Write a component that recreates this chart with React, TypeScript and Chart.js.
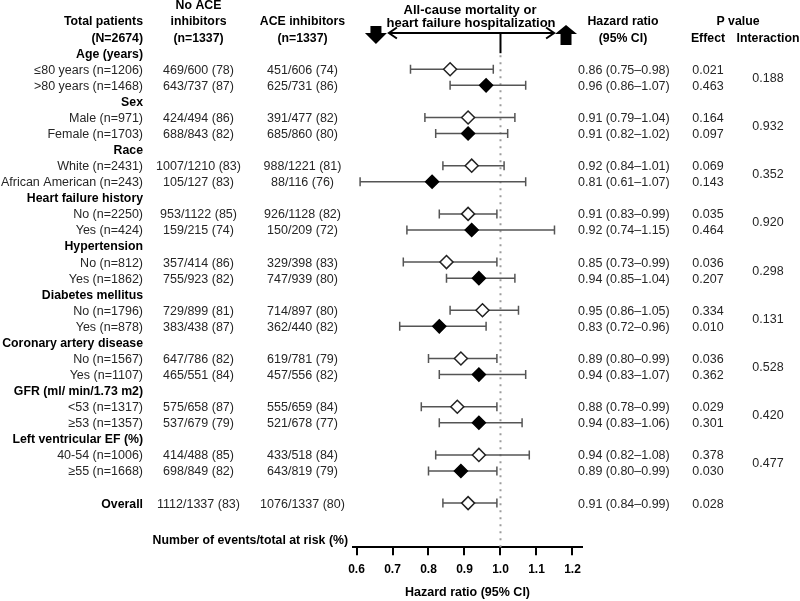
import React, { useEffect, useRef } from 'react';
import { Chart, registerables } from 'chart.js';

Chart.register(...registerables);

// ---------------- DATA ----------------
const groupTitles = [
  'Age (years)',
  'Sex',
  'Race',
  'Heart failure history',
  'Hypertension',
  'Diabetes mellitus',
  'Coronary artery disease',
  'GFR (ml/ min/1.73 m2)',
  'Left ventricular EF (%)',
];

const subgroupLabels = [
  '≤80 years (n=1206)', '>80 years (n=1468)',
  'Male (n=971)', 'Female (n=1703)',
  'White (n=2431)', 'African American (n=243)',
  'No (n=2250)', 'Yes (n=424)',
  'No (n=812)', 'Yes (n=1862)',
  'No (n=1796)', 'Yes (n=878)',
  'No (n=1567)', 'Yes (n=1107)',
  '<53 (n=1317)', '≥53 (n=1357)',
  '40-54 (n=1006)', '≥55 (n=1668)',
];

const noAceEvents = [
  '469/600 (78)', '643/737 (87)',
  '424/494 (86)', '688/843 (82)',
  '1007/1210 (83)', '105/127 (83)',
  '953/1122 (85)', '159/215 (74)',
  '357/414 (86)', '755/923 (82)',
  '729/899 (81)', '383/438 (87)',
  '647/786 (82)', '465/551 (84)',
  '575/658 (87)', '537/679 (79)',
  '414/488 (85)', '698/849 (82)',
];

const aceEvents = [
  '451/606 (74)', '625/731 (86)',
  '391/477 (82)', '685/860 (80)',
  '988/1221 (81)', '88/116 (76)',
  '926/1128 (82)', '150/209 (72)',
  '329/398 (83)', '747/939 (80)',
  '714/897 (80)', '362/440 (82)',
  '619/781 (79)', '457/556 (82)',
  '555/659 (84)', '521/678 (77)',
  '433/518 (84)', '643/819 (79)',
];

const hazardRatios = [0.86, 0.96, 0.91, 0.91, 0.92, 0.81, 0.91, 0.92, 0.85, 0.94, 0.95, 0.83, 0.89, 0.94, 0.88, 0.94, 0.94, 0.89];
const ciLower = [0.75, 0.86, 0.79, 0.82, 0.84, 0.61, 0.83, 0.74, 0.73, 0.85, 0.86, 0.72, 0.80, 0.83, 0.78, 0.83, 0.82, 0.80];
const ciUpper = [0.98, 1.07, 1.04, 1.02, 1.01, 1.07, 0.99, 1.15, 0.99, 1.04, 1.05, 0.96, 0.99, 1.07, 0.99, 1.06, 1.08, 0.99];

const pEffect = [
  '0.021', '0.463', '0.164', '0.097', '0.069', '0.143', '0.035', '0.464', '0.036',
  '0.207', '0.334', '0.010', '0.036', '0.362', '0.029', '0.301', '0.378', '0.030',
];
const pInteraction = ['0.188', '0.932', '0.352', '0.920', '0.298', '0.131', '0.528', '0.420', '0.477'];

const overallLabel = 'Overall';
const overallNoAce = '1112/1337 (83)';
const overallAce = '1076/1337 (80)';
const overallHr = 0.91;
const overallLow = 0.84;
const overallHigh = 0.99;
const overallP = '0.028';

const xTicks = [0.6, 0.7, 0.8, 0.9, 1.0, 1.1, 1.2];
const refValue = 1.0;

// ---------------- LAYOUT HELPERS ----------------
const subRow = (k: number) => Math.floor(k / 2) * 3 + 1 + (k % 2);
const groupRow = (g: number) => g * 3;
const overallRow = 28;

const fmtHr = (h: number, l: number, u: number) =>
  `${h.toFixed(2)} (${l.toFixed(2)}–${u.toFixed(2)})`;

const FONT_FAMILY = '"Liberation Sans", Arial, Helvetica, sans-serif';
const REG = `12.5px ${FONT_FAMILY}`;
const BOLD = `bold 12.3px ${FONT_FAMILY}`;
const TEXT_COLOR = '#262626';

const forestPlugin = {
  id: 'forest',
  beforeDatasetsDraw(chart: any) {
    const { ctx, chartArea } = chart;
    const xs = chart.scales.x;
    const ys = chart.scales.y;
    ctx.save();

    // reference dotted line
    const xr = xs.getPixelForValue(refValue);
    ctx.strokeStyle = '#9c9c9c';
    ctx.lineWidth = 2;
    ctx.setLineDash([2, 5]);
    ctx.beginPath();
    ctx.moveTo(xr, ys.getPixelForValue(0) + 2);
    ctx.lineTo(xr, chartArea.bottom);
    ctx.stroke();
    ctx.setLineDash([]);

    // solid upper line
    const yTop = ys.getPixelForValue(-1.26);
    ctx.strokeStyle = '#000';
    ctx.lineWidth = 2;
    ctx.beginPath();
    ctx.moveTo(xr, yTop);
    ctx.lineTo(xr, ys.getPixelForValue(0));
    ctx.stroke();

    // double-headed horizontal arrow
    const xl = xs.getPixelForValue(0.69);
    const xrr = xs.getPixelForValue(1.149);
    ctx.beginPath();
    ctx.moveTo(xl, yTop);
    ctx.lineTo(xrr, yTop);
    ctx.moveTo(xl + 8, yTop - 5.5);
    ctx.lineTo(xl, yTop);
    ctx.lineTo(xl + 8, yTop + 5.5);
    ctx.moveTo(xrr - 8, yTop - 5.5);
    ctx.lineTo(xrr, yTop);
    ctx.lineTo(xrr - 8, yTop + 5.5);
    ctx.stroke();

    // block arrows
    ctx.fillStyle = '#000';
    const xd = xs.getPixelForValue(0.654);
    ctx.beginPath();
    ctx.moveTo(xd - 5.5, yTop - 7);
    ctx.lineTo(xd + 5.5, yTop - 7);
    ctx.lineTo(xd + 5.5, yTop);
    ctx.lineTo(xd + 11, yTop);
    ctx.lineTo(xd, yTop + 11);
    ctx.lineTo(xd - 11, yTop);
    ctx.lineTo(xd - 5.5, yTop);
    ctx.closePath();
    ctx.fill();
    const xu = xs.getPixelForValue(1.182);
    ctx.beginPath();
    ctx.moveTo(xu, yTop - 8);
    ctx.lineTo(xu + 11, yTop + 1);
    ctx.lineTo(xu + 5.5, yTop + 1);
    ctx.lineTo(xu + 5.5, yTop + 12);
    ctx.lineTo(xu - 5.5, yTop + 12);
    ctx.lineTo(xu - 5.5, yTop + 1);
    ctx.lineTo(xu - 11, yTop + 1);
    ctx.closePath();
    ctx.fill();

    // error bars
    ctx.strokeStyle = '#555';
    ctx.lineWidth = 1.5;
    const drawBar = (lo: number, hi: number, row: number) => {
      const py = ys.getPixelForValue(row);
      const a = xs.getPixelForValue(lo);
      const b = xs.getPixelForValue(hi);
      ctx.beginPath();
      ctx.moveTo(a, py);
      ctx.lineTo(b, py);
      ctx.moveTo(a, py - 4.5);
      ctx.lineTo(a, py + 4.5);
      ctx.moveTo(b, py - 4.5);
      ctx.lineTo(b, py + 4.5);
      ctx.stroke();
    };
    hazardRatios.forEach((_, k) => drawBar(ciLower[k], ciUpper[k], subRow(k)));
    drawBar(overallLow, overallHigh, overallRow);
    ctx.restore();
  },
  afterDraw(chart: any) {
    const { ctx } = chart;
    const ys = chart.scales.y;
    const ty = (row: number) => ys.getPixelForValue(row) + 1;
    ctx.save();
    ctx.textBaseline = 'middle';

    const text = (s: string, x: number, y: number, align: CanvasTextAlign, bold: boolean, size?: number) => {
      ctx.font = bold ? (size ? `bold ${size}px ${FONT_FAMILY}` : BOLD) : REG;
      ctx.fillStyle = bold ? '#000' : TEXT_COLOR;
      ctx.textAlign = align;
      ctx.fillText(s, x, y);
    };

    const LABEL_X = 143;
    const NOACE_X = 198.5;
    const ACE_X = 302.5;
    const HR_X = 578;
    const EFF_X = 708;
    const INT_X = 768;

    // column headers
    text('Total patients', LABEL_X, ty(-2), 'right', true);
    text('(N=2674)', LABEL_X, ty(-1), 'right', true);
    text('No ACE', NOACE_X, ty(-3), 'center', true);
    text('inhibitors', NOACE_X, ty(-2), 'center', true);
    text('(n=1337)', NOACE_X, ty(-1), 'center', true);
    text('ACE inhibitors', ACE_X, ty(-2), 'center', true);
    text('(n=1337)', ACE_X, ty(-1), 'center', true);
    text('Hazard ratio', 623, ty(-2), 'center', true);
    text('(95% CI)', 623, ty(-1), 'center', true);
    text('P value', 738, ty(-2), 'center', true);
    text('Effect', EFF_X, ty(-1), 'center', true);
    text('Interaction', INT_X, ty(-1), 'center', true);
    text('All-cause mortality or', 470, 10, 'center', true, 13);
    text('heart failure hospitalization', 471, 23, 'center', true, 13);

    groupTitles.forEach((g, i) => {
      text(g, LABEL_X, ty(groupRow(i)), 'right', true);
      text(pInteraction[i], INT_X, ty(groupRow(i) + 1.5), 'center', false);
    });
    subgroupLabels.forEach((s, k) => {
      const r = subRow(k);
      text(s, LABEL_X, ty(r), 'right', false);
      text(noAceEvents[k], NOACE_X, ty(r), 'center', false);
      text(aceEvents[k], ACE_X, ty(r), 'center', false);
      text(fmtHr(hazardRatios[k], ciLower[k], ciUpper[k]), HR_X, ty(r), 'left', false);
      text(pEffect[k], EFF_X, ty(r), 'center', false);
    });
    text(overallLabel, LABEL_X, ty(overallRow), 'right', true);
    text(overallNoAce, NOACE_X, ty(overallRow), 'center', false);
    text(overallAce, ACE_X, ty(overallRow), 'center', false);
    text(fmtHr(overallHr, overallLow, overallHigh), HR_X, ty(overallRow), 'left', false);
    text(overallP, EFF_X, ty(overallRow), 'center', false);

    text('Number of events/total at risk (%)', 348, ty(30.25), 'right', true);
    ctx.restore();
  },
};

export default function App() {
  const ref = useRef<HTMLCanvasElement | null>(null);
  useEffect(() => {
    document.body.style.margin = '0';
    const canvas = ref.current;
    if (!canvas) return;

    const openPts: { x: number; y: number }[] = [];
    const filledPts: { x: number; y: number }[] = [];
    hazardRatios.forEach((h, k) => {
      (k % 2 === 0 ? openPts : filledPts).push({ x: h, y: subRow(k) });
    });
    openPts.push({ x: overallHr, y: overallRow });

    const chart = new Chart(canvas, {
      type: 'scatter',
      data: {
        datasets: [
          {
            data: openPts,
            pointStyle: 'rectRot',
            pointRadius: 6.5,
            pointBorderWidth: 1.5,
            backgroundColor: '#ffffff',
            borderColor: '#222222',
          },
          {
            data: filledPts,
            pointStyle: 'rectRot',
            pointRadius: 6.5,
            pointBorderWidth: 1.5,
            backgroundColor: '#000000',
            borderColor: '#000000',
          },
        ],
      },
      options: {
        animation: false,
        responsive: false,
        events: [],
        layout: { padding: { left: 353.3, right: 218.3, top: 29.1, bottom: 0 } },
        plugins: { legend: { display: false }, tooltip: { enabled: false } },
        scales: {
          x: {
            type: 'linear',
            min: 0.5911,
            max: 1.2256,
            afterBuildTicks: (scale: any) => {
              scale.ticks = xTicks.map((v) => ({ value: v }));
            },
            afterFit: (scale: any) => {
              scale.height = 53.7;
            },
            grid: { drawOnChartArea: false, drawTicks: true, tickLength: 8, color: '#000', lineWidth: 2 },
            border: { display: true, color: '#000', width: 2 },
            ticks: {
              color: '#000',
              padding: 7,
              font: { family: FONT_FAMILY, size: 12, weight: 'bold' },
              callback: (v: any) => Number(v).toFixed(1),
            },
            title: {
              display: true,
              text: 'Hazard ratio (95% CI)',
              color: '#000',
              font: { family: FONT_FAMILY, size: 12.5, weight: 'bold' },
              padding: { top: 0, bottom: 1 },
            },
          },
          y: { type: 'linear', display: false, reverse: true, min: -1.5, max: 30.75 },
        },
      },
      plugins: [forestPlugin],
    } as any);
    return () => chart.destroy();
  }, []);

  return (
    <div style={{ position: 'fixed', left: 0, top: 0, width: 800, height: 601, background: '#fff' }}>
      <canvas ref={ref} width={800} height={601} style={{ display: 'block', width: 800, height: 601 }} />
    </div>
  );
}
